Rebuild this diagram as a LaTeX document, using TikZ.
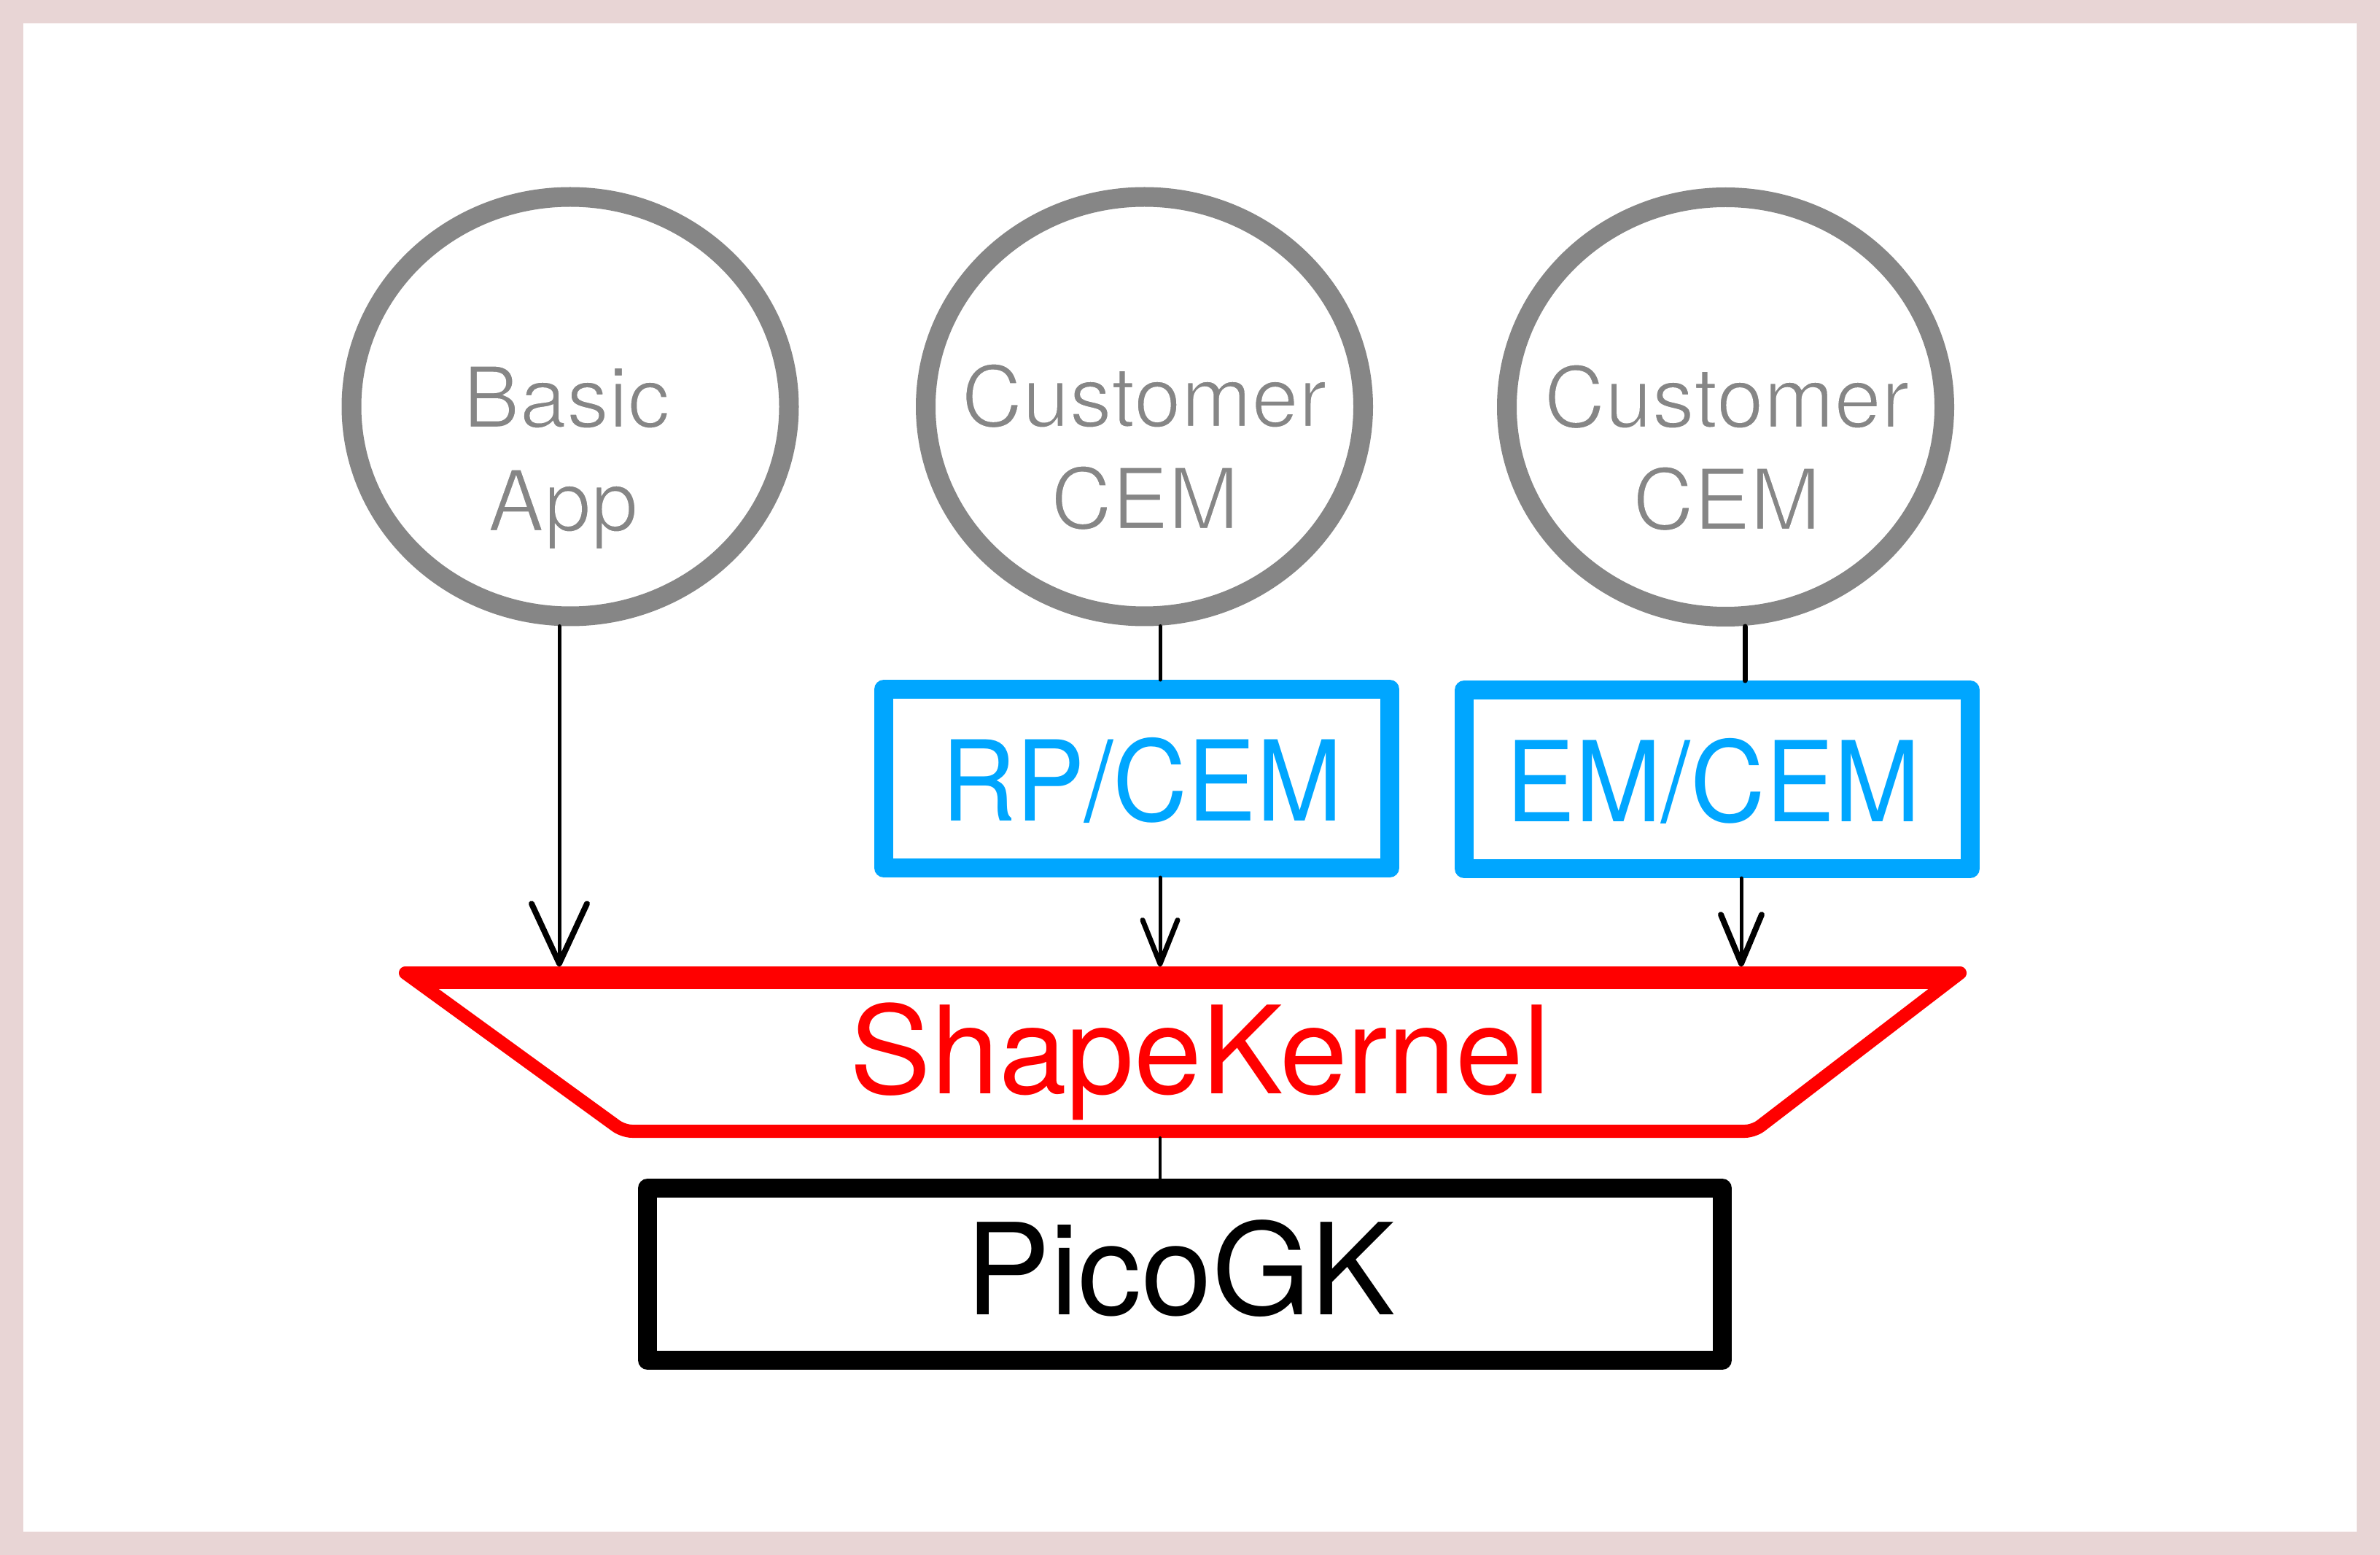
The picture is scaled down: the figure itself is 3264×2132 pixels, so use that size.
\documentclass[tikz,border=0pt]{standalone}
\usepackage{fontspec}
\setmainfont{TeX Gyre Heros}
\usetikzlibrary{arrows.meta,shapes.geometric}
\definecolor{pinkbg}{RGB}{232,213,213}
\definecolor{graycol}{RGB}{134,134,134}
\definecolor{bluecol}{RGB}{0,166,255}
\definecolor{redcol}{RGB}{255,0,0}
% thin the glyphs a little (the reference uses a light weight): fill, then stroke the outline in white
\newcommand{\lightglyphs}[1]{\special{pdf:literal direct 2 Tr 0.7 w 1 1 1 RG}#1\special{pdf:literal direct 0 Tr}}
\tikzset{
  ring/.style={ellipse, draw=graycol, line width=2.7mm, minimum width=60mm, minimum height=57.5mm, inner sep=0pt},
  graytext/.style={text=graycol, font=\fontsize{33}{40}\selectfont, anchor=base, inner sep=0pt},
  bluebox/.style={rectangle, draw=bluecol, line width=2.6mm, line join=round, minimum width=69.4mm, minimum height=24.5mm, inner sep=0pt},
  bluetext/.style={text=bluecol, font=\fontsize{43.5}{50}\selectfont, anchor=base, inner sep=0pt},
  picobox/.style={rectangle, draw=black, line width=2.6mm, line join=round, minimum width=147.4mm, minimum height=23.6mm, inner sep=0pt},
  bigtext/.style={font=\fontsize{49.5}{56}\selectfont, anchor=base, inner sep=0pt},
  redtext/.style={text=redcol, font=\fontsize{47.5}{54}\selectfont, anchor=base, inner sep=0pt},
  conn/.style={draw=black, line width=0.5mm, line cap=round},
  tipA/.style={-{Straight Barb[length=8.2mm, width=7.6mm, line width=0.8mm, round]}},
  tipB/.style={-{Straight Barb[length=6.0mm, width=4.8mm, line width=0.7mm, round]}},
  tipC/.style={-{Straight Barb[length=6.7mm, width=5.6mm, line width=0.8mm, round]}},
}
\begin{document}
\begin{tikzpicture}[x=0.1mm, y=-0.1mm]
\useasboundingbox (0,0) rectangle (3264,2132);
\fill[pinkbg] (0,0) rectangle (3264,2132);
\fill[white] (32,32) rectangle (3232,2100);

% circles
\node[ring] (c1) at (782,557.5) {};
\node[ring] (c2) at (1569.5,557.5) {};
\node[ring] (c3) at (2366.5,558) {};
\node[graytext] (c1a) at (777,586) {\lightglyphs{Basic}};
\node[graytext] (c1b) at (772,728) {\lightglyphs{App}};
\node[graytext] (c2a) at (1569,585) {\lightglyphs{Customer}};
\node[graytext] (c2b) at (1570,725) {\lightglyphs{CEM}};
\node[graytext] (c3a) at (2368,586) {\lightglyphs{Customer}};
\node[graytext] (c3b) at (2368,726) {\lightglyphs{CEM}};

% blue boxes
\node[bluebox] (rp) at (1559,1067.5) {};
\node[bluetext] (rpt) at (1566,1125) {\scalebox{0.925}[1]{RP/CEM}};
\node[bluebox] (em) at (2355,1068.5) {};
\node[bluetext] (emt) at (2350,1126) {\scalebox{0.93}[1]{EM/CEM}};

% ShapeKernel trapezoid
\coordinate (tl) at (556,1334);
\coordinate (tr) at (2688,1334);
\coordinate (br) at (2405,1551);
\coordinate (bl) at (855,1551);
\draw[redcol, line width=1.8mm, line join=round] (tl) -- (tr) [rounded corners=1.2mm] -- (br) -- (bl) [sharp corners] -- cycle;
\fill[redcol] (580,1325) rectangle (2666,1356);
\node[minimum width=200mm, minimum height=23.5mm, inner sep=0pt, outer sep=0pt] (sk) at (1622,1442.5) {};
\node[redtext] (skt) at (1646,1499) {ShapeKernel};

% PicoGK
\node[picobox] (pico) at (1625,1747) {};
\node[bigtext] (picot) at (1619,1802) {PicoGK};

% connectors
\draw[conn, tipA] ([xshift=-1.5mm]c1.south) -- ([xshift=-1.5mm]c1.south |- sk.north);
\draw[conn] ([xshift=2.15mm]c2.south) -- ([xshift=2.15mm]c2.south |- rp.north);
\draw[conn, tipB] ([xshift=3.2mm]rp.south) -- ([xshift=3.2mm]rp.south |- sk.north);
\draw[conn, line width=0.7mm] ([xshift=2.65mm]c3.south) -- ([xshift=2.65mm]c3.south |- em.north);
\draw[conn, tipC] ([xshift=3.3mm]em.south) -- ([xshift=3.3mm]em.south |- sk.north);
\draw[conn, line width=0.4mm] ([xshift=-3.1mm]sk.south) -- ([xshift=-3.1mm]sk.south |- pico.north);
\end{tikzpicture}
\end{document}
